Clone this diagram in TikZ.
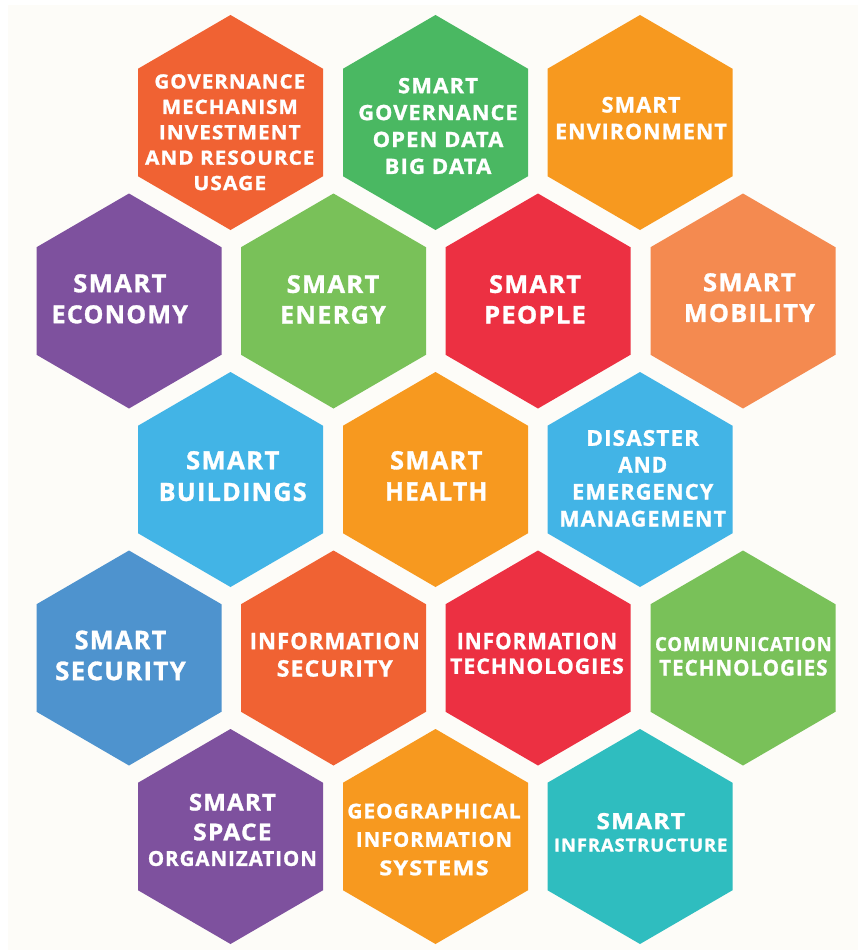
\documentclass[tikz,border=0pt]{standalone}
\usepackage{fontspec}
\usepackage{graphicx}
\newfontfamily\hexfont{Open Sans}[LetterSpace=5,BoldFeatures={FakeBold=1.2}]
\definecolor{cOR}{HTML}{F06233}
\definecolor{cGR}{HTML}{4AB862}
\definecolor{cOY}{HTML}{F7991F}
\definecolor{cPU}{HTML}{7E519E}
\definecolor{cLG}{HTML}{79C159}
\definecolor{cRD}{HTML}{EC3042}
\definecolor{cSA}{HTML}{F48A50}
\definecolor{cSB}{HTML}{42B4E6}
\definecolor{cBL}{HTML}{4E93CE}
\definecolor{cTE}{HTML}{2FBDBF}
\definecolor{cBG}{HTML}{FDFCF8}
\newcommand\tl[3]{\resizebox{#1pt}{#2pt}{\bfseries #3}}
\newcommand\hexcell[3]{\fill[#3] (#1,#2) +(0,-107.5) -- +(92.5,-53.75) -- +(92.5,53.75) -- +(0,107.5) -- +(-92.5,53.75) -- +(-92.5,-53.75) -- cycle;}
\tikzset{
  lbl/.style={anchor=north, inner sep=0pt, align=center, text=white, font={\hexfont\fontsize{12}{#1pt}\selectfont}},
}
\begin{document}
\begin{tikzpicture}[x=1pt,y=-1pt]
\useasboundingbox (0,0) rectangle (858,950);
\fill[white] (0,0) rectangle (858,950);
\fill[cBG] (8,5) rectangle (858,950);
% row 1
\hexcell{230.5}{122.5}{cOR}
\hexcell{435.5}{122.5}{cGR}
\hexcell{640}{122.5}{cOY}
% row 2
\hexcell{129}{301}{cPU}
\hexcell{333.5}{301}{cLG}
\hexcell{538}{301}{cRD}
\hexcell{743}{301}{cSA}
% row 3
\hexcell{230.5}{479.5}{cSB}
\hexcell{435.5}{479.5}{cOY}
\hexcell{640}{479.5}{cSB}
% row 4
\hexcell{129}{658}{cBL}
\hexcell{333.5}{658}{cOR}
\hexcell{538}{658}{cRD}
\hexcell{743}{658}{cLG}
% row 5
\hexcell{230.5}{836.5}{cPU}
\hexcell{435.5}{836.5}{cOY}
\hexcell{640}{836.5}{cTE}
% labels
\node[lbl=25.4] (gov) at (229.8,74) {\tl{150.7}{14.3}{GOVERNANCE}\\\tl{136}{14.3}{MECHANISM}\\\tl{141.7}{14.3}{INVESTMENT}\\\tl{169.3}{14.3}{AND RESOURCE}\\\tl{72.7}{14.3}{USAGE}};
\node[lbl=26.9] (sgov) at (438,77.7) {\tl{80}{15.3}{SMART}\\\tl{159.3}{15.3}{GOVERNANCE}\\\tl{130.7}{15.3}{OPEN DATA}\\\tl{106.7}{15.3}{BIG DATA}};
\node[lbl=26.7] (env) at (641,96.7) {\tl{79}{15.6}{SMART}\\\tl{171.7}{15.6}{ENVIRONMENT}};
\node[lbl=31] (econ) at (119.8,274) {\tl{93.3}{18}{SMART}\\\tl{136.3}{18}{ECONOMY}};
\node[lbl=30.6] (energy) at (333,275) {\tl{92.7}{17.7}{SMART}\\\tl{106}{17.7}{ENERGY}};
\node[lbl=30.6] (people) at (535,275) {\tl{92}{17.7}{SMART}\\\tl{101.7}{17.7}{PEOPLE}};
\node[lbl=30.7] (mobility) at (749.4,273) {\tl{92.7}{18}{SMART}\\\tl{131}{18}{MOBILITY}};
\node[lbl=31.6] (buildings) at (232.7,450.9) {\tl{93.3}{18.2}{SMART}\\\tl{148}{18.2}{BUILDINGS}};
\node[lbl=31.2] (health) at (436.2,450.9) {\tl{92.3}{18.2}{SMART}\\\tl{102.3}{18.2}{HEALTH}};
\node[lbl=26.9] (disaster) at (642.7,429.8) {\tl{112.7}{15.8}{DISASTER}\\\tl{49}{15.8}{AND}\\\tl{141.3}{15.8}{EMERGENCY}\\\tl{166.7}{15.8}{MANAGEMENT}};
\node[lbl=30.9] (security) at (120.5,630.4) {\tl{91.7}{18.6}{SMART}\\\tl{130.7}{18.6}{SECURITY}};
\node[lbl=27.4] (infosec) at (334.8,632.5) {\tl{170}{16.5}{INFORMATION}\\\tl{116}{16.5}{SECURITY}};
\node[lbl=24.6] (infotech) at (537,632.5) {\tl{160}{16.5}{INFORMATION}\\\tl{173.7}{15.5}{TECHNOLOGIES}};
\node[lbl=24.5] (comm) at (743.4,636.8) {\tl{176.7}{14}{COMMUNICATION}\\\tl{168.3}{15.8}{TECHNOLOGIES}};
\node[lbl=29.8] (spaceorg) at (232.4,793.5) {\tl{87}{16.8}{SMART}\\\tl{78.3}{16.8}{SPACE}\\[-4.2pt]\tl{169}{15}{ORGANIZATION}};
\node[lbl=28.4] (geo) at (434,803.4) {\tl{173.3}{14.8}{GEOGRAPHICAL}\\\tl{156}{14.8}{INFORMATION}\\\tl{109.3}{14.8}{SYSTEMS}};
\node[lbl=22.4] (infra) at (640.7,812.8) {\tl{88.3}{16.1}{SMART}\\\tl{173.3}{13}{INFRASTRUCTURE}};
\end{tikzpicture}
\end{document}
